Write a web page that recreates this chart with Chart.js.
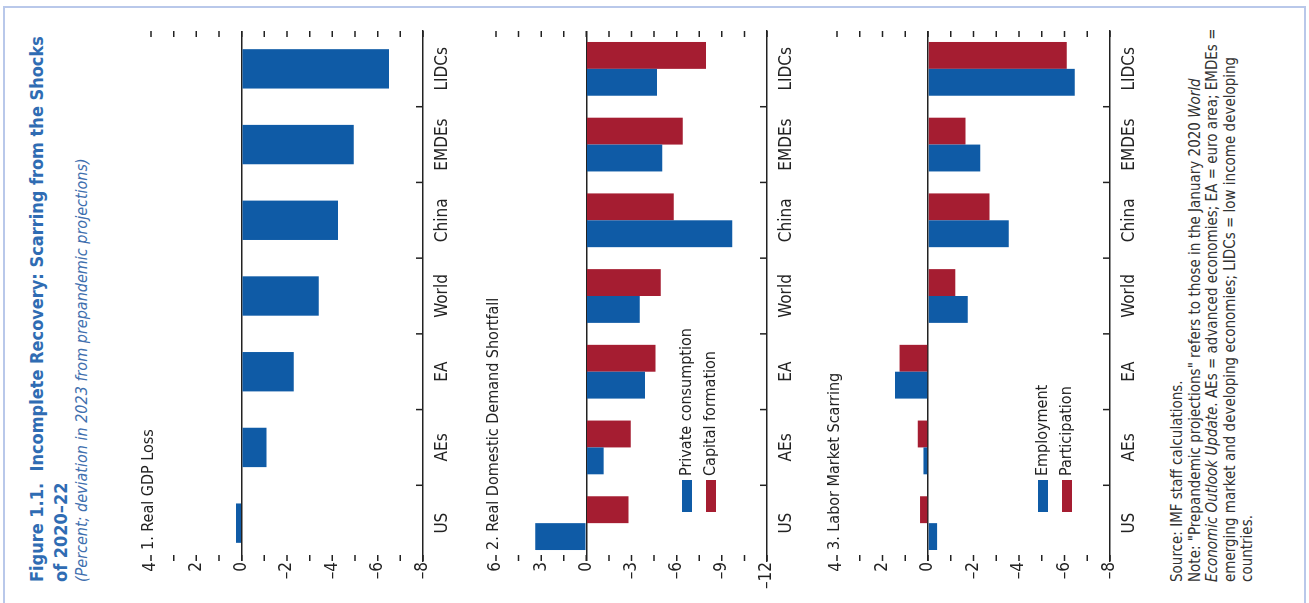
<!DOCTYPE html>
<html>
<head>
<meta charset="utf-8">
<script src="https://cdn.jsdelivr.net/npm/chart.js@4"></script>
<style>
  html, body { margin: 0; padding: 0; background: #fff; }
  body { width: 1309px; height: 603px; overflow: hidden; position: relative;
         font-family: "Liberation Sans Narrow", "DejaVu Sans Condensed", "Arial Narrow", sans-serif; }
  #frame { position: absolute; left: 3px; top: 6px; width: 1299px; height: 600px;
           border: 2px solid #b9c8ea; border-bottom: none; }
  /* the figure is laid out upright, then turned a quarter to the left */
  #page { position: absolute; left: 0; top: 0; width: 603px; height: 1309px;
          transform-origin: 0 0; transform: translate(0, 603px) rotate(-90deg); }
  #page canvas { position: absolute; left: 0; }
  .title { position: absolute; left: 21px; top: 25px; color: #2f6cb3; font-weight: bold;
           font-size: 18px; line-height: 24px; white-space: nowrap; }
  .subtitle { position: absolute; left: 21px; top: 72px; color: #3f6fae; font-style: italic;
              font-size: 16px; line-height: 20px; white-space: nowrap; }
  .notes { position: absolute; left: 21px; top: 1169px; color: #333; font-size: 15px;
           line-height: 17.5px; white-space: nowrap; }
</style>
</head>
<body>
<div id="frame"></div>
<div id="page">
  <div class="title">Figure 1.1.&nbsp; Incomplete Recovery: Scarring from the Shocks<br>of 2020–22</div>
  <div class="subtitle">(Percent; deviation in 2023 from prepandemic projections)</div>
  <canvas id="gdp"></canvas>
  <canvas id="demand"></canvas>
  <canvas id="labor"></canvas>
  <div class="notes">Source: IMF staff calculations.<br>
    Note: "Prepandemic projections" refers to those in the January 2020 <i>World</i><br>
    <i>Economic Outlook Update</i>. AEs = advanced economies; EA = euro area; EMDEs =<br>
    emerging market and developing economies; LIDCs = low income developing<br>
    countries.</div>
</div>
<script>
const categories = ['US', 'AEs', 'EA', 'World', 'China', 'EMDEs', 'LIDCs'];

// panel 1
const gdpLoss = [0.25, -1.1, -2.3, -3.4, -4.25, -4.95, -6.5];
// panel 2
const privateConsumption = [3.4, -1.15, -3.9, -3.55, -9.7, -5.05, -4.7];
const capitalFormation = [-2.8, -2.95, -4.6, -4.95, -5.8, -6.4, -7.95];
// panel 3
const employment = [-0.4, 0.2, 1.45, -1.75, -3.55, -2.3, -6.45];
const participation = [0.35, 0.45, 1.25, -1.2, -2.7, -1.65, -6.1];

const BLUE = '#0f5ba6';
const RED = '#a51d31';
const INK = '#222';

Chart.defaults.font.family = '"Liberation Sans Narrow", "DejaVu Sans Condensed", "Arial Narrow", sans-serif';
Chart.defaults.color = INK;

// tick marks inside the plot edges, category dividers, panel title and legend
const panelDeco = {
  id: 'panelDeco',
  afterDraw(chart, args, opts) {
    const ctx = chart.ctx;
    const area = chart.chartArea;
    const y = chart.scales.y;
    const x = chart.scales.x;
    ctx.save();
    ctx.strokeStyle = INK;
    ctx.lineWidth = 1.5;
    ctx.beginPath();
    y.ticks.forEach(t => {
      const py = y.getPixelForValue(t.value);
      ctx.moveTo(area.left, py); ctx.lineTo(area.left + 6, py);
      ctx.moveTo(area.right - 6, py); ctx.lineTo(area.right, py);
    });
    for (let i = 1; i < categories.length; i++) {
      const px = (x.getPixelForValue(i - 1) + x.getPixelForValue(i)) / 2;
      ctx.moveTo(px, area.bottom); ctx.lineTo(px, area.bottom - 7);
    }
    ctx.stroke();

    ctx.fillStyle = INK;
    ctx.font = '16px ' + Chart.defaults.font.family;
    ctx.textBaseline = 'middle';
    ctx.textAlign = 'left';
    ctx.fillText(opts.title, area.left + 11, area.top - 2);

    if (opts.legendTop != null) {
      chart.data.datasets.forEach((ds, i) => {
        const top = area.top + opts.legendTop + i * 24;
        ctx.fillStyle = ds.backgroundColor;
        ctx.fillRect(area.left + 49, top, 32, 10);
        ctx.fillStyle = INK;
        ctx.fillText(ds.label, area.left + 85, top + 5);
      });
    }
    ctx.restore();
  }
};

function makePanel(id, top, plotHeight, datasets, yMin, yMax, step, labelStep, catPct, title, legendTop) {
  const canvas = document.getElementById(id);
  const h = plotHeight + 30 + 45;
  canvas.width = 603; canvas.height = h;
  canvas.style.width = '603px'; canvas.style.height = h + 'px';
  canvas.style.top = (top - 30) + 'px';
  return new Chart(canvas, {
    type: 'bar',
    data: { labels: categories, datasets: datasets },
    options: {
      responsive: false,
      animation: false,
      devicePixelRatio: 1,
      layout: { padding: { top: 30, right: 31, left: 0, bottom: 0 } },
      datasets: { bar: { categoryPercentage: catPct, barPercentage: 1 } },
      plugins: {
        legend: { display: false },
        tooltip: { enabled: false },
        panelDeco: { title: title, legendTop: legendTop }
      },
      scales: {
        x: {
          grid: { display: false, drawTicks: false },
          border: { display: true, color: INK, width: 1.5 },
          ticks: { padding: 9, font: { size: 17 }, maxRotation: 0 },
          afterFit(s) { s.height = 45; }
        },
        y: {
          min: yMin, max: yMax, z: 1,
          grid: {
            drawTicks: false, lineWidth: 1.5,
            color: c => (c.tick && c.tick.value === 0) ? INK : 'rgba(0,0,0,0)'
          },
          border: { display: false },
          ticks: {
            stepSize: step, padding: 1, font: { size: 17 }, autoSkip: false,
            callback: v => {
              if (Math.abs(v / labelStep - Math.round(v / labelStep)) > 1e-6) return '';
              return v < 0 ? '\u2013' + Math.abs(v) : String(v);
            }
          },
          afterFit(s) { s.width = 42; }
        }
      }
    },
    plugins: [panelDeco]
  });
}

makePanel('gdp', 151, 272,
  [{ label: 'Real GDP loss', data: gdpLoss, backgroundColor: BLUE }],
  -8, 4, 1, 2, 0.52, '1. Real GDP Loss', null);

makePanel('demand', 496, 271,
  [{ label: 'Private consumption', data: privateConsumption, backgroundColor: BLUE },
   { label: 'Capital formation', data: capitalFormation, backgroundColor: RED }],
  -12, 6, 1.5, 3, 0.71, '2. Real Domestic Demand Shortfall', 186);

makePanel('labor', 837, 273,
  [{ label: 'Employment', data: employment, backgroundColor: BLUE },
   { label: 'Participation', data: participation, backgroundColor: RED }],
  -8, 4, 1, 2, 0.71, '3. Labor Market Scarring', 201);
</script>
</body>
</html>
